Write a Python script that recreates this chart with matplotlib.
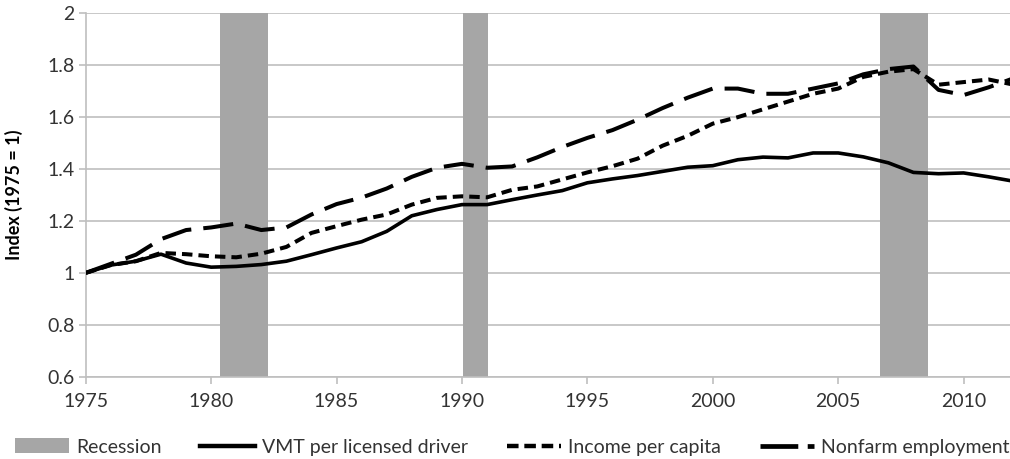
import numpy as np
import matplotlib
matplotlib.use('Agg')
import matplotlib.pyplot as plt
from matplotlib.patches import Patch
from matplotlib.lines import Line2D
from matplotlib.ticker import FuncFormatter

plt.rcParams['font.family'] = ['Lato', 'DejaVu Sans']

# years and index values (1975 = 1)
years = list(range(1975, 2013))

vmt = [1.000, 1.030, 1.045, 1.072, 1.038, 1.022, 1.025, 1.032, 1.045, 1.070,
       1.096, 1.120, 1.160, 1.220, 1.244, 1.263, 1.263, 1.282, 1.300, 1.317,
       1.347, 1.362, 1.375, 1.391, 1.407, 1.413, 1.436, 1.446, 1.443, 1.462,
       1.462, 1.447, 1.424, 1.387, 1.382, 1.385, 1.370, 1.353]

income = [1.000, 1.030, 1.045, 1.077, 1.072, 1.064, 1.060, 1.074, 1.100, 1.154,
          1.180, 1.205, 1.225, 1.263, 1.289, 1.295, 1.291, 1.320, 1.333, 1.360,
          1.387, 1.411, 1.440, 1.490, 1.528, 1.575, 1.600, 1.630, 1.660, 1.690,
          1.710, 1.755, 1.775, 1.785, 1.725, 1.735, 1.745, 1.725]

employment = [1.000, 1.035, 1.070, 1.130, 1.165, 1.175, 1.190, 1.165, 1.175, 1.225,
              1.265, 1.290, 1.325, 1.370, 1.405, 1.420, 1.405, 1.410, 1.445, 1.485,
              1.520, 1.550, 1.590, 1.635, 1.675, 1.710, 1.710, 1.690, 1.690, 1.710,
              1.730, 1.765, 1.785, 1.795, 1.705, 1.685, 1.715, 1.750]

# recession periods (start, end)
rec_start = [1980.35, 1990.05, 2006.65]
rec_end = [1982.27, 1991.05, 2008.57]

ytick_vals = [0.6, 0.8, 1.0, 1.2, 1.4, 1.6, 1.8, 2.0]
xtick_vals = [1975, 1980, 1985, 1990, 1995, 2000, 2005, 2010]

grey = '#a6a6a6'
txt = '#333333'

fig = plt.figure(figsize=(10.1, 4.59), dpi=100)
ax = fig.add_axes([0.0849, 0.1793, 0.9151, 0.7917])

for s, e in zip(rec_start, rec_end):
    ax.axvspan(s, e, color=grey, lw=0, zorder=1)

ax.plot(years, vmt, '-', color='black', lw=2.6, zorder=3)
ax.plot(years, income, color='black', lw=2.9, dashes=(2.6, 1.5), zorder=3)
ax.plot(years, employment, color='black', lw=2.9, dashes=(7.5, 3.0), zorder=3)

ax.set_xlim(1975, 2011.85)
ax.set_ylim(0.6, 2.0)
ax.set_yticks(ytick_vals)
ax.set_xticks(xtick_vals)
ax.yaxis.set_major_formatter(FuncFormatter(lambda v, p: '%g' % v))
ax.grid(axis='y', color='#bfbfbf', lw=1.2, zorder=0)
ax.set_axisbelow(True)

for sp in ['top', 'right']:
    ax.spines[sp].set_visible(False)
ax.spines['left'].set_color('#bfbfbf')
ax.spines['bottom'].set_color('#bfbfbf')
ax.spines['left'].set_linewidth(1.2)
ax.spines['bottom'].set_linewidth(1.2)
ax.tick_params(axis='both', colors='#bfbfbf', labelcolor=txt, labelsize=14,
               length=5, width=1.2)
ax.tick_params(axis='x', pad=7)
ax.tick_params(axis='y', pad=3)

ax.set_ylabel('Index (1975 = 1)', fontsize=13, fontweight='bold', color='black')
ax.yaxis.set_label_coords(-0.068, 0.5)

handles = [Patch(color=grey, lw=0),
           Line2D([], [], color='black', lw=3.2),
           Line2D([], [], color='black', lw=3.2, dashes=(2.6, 1.3)),
           Line2D([], [], color='black', lw=3.4, dashes=(8.0, 2.0))]
labels = ['Recession', 'VMT per licensed driver', 'Income per capita', 'Nonfarm employment']
fig.legend(handles, labels, loc='center', bbox_to_anchor=(0.507, 0.026), ncol=4,
           frameon=False, fontsize=14, handlelength=2.8, handleheight=0.8,
           handletextpad=0.35, columnspacing=2.0, labelcolor=txt)

fig.savefig('out.png', dpi=100)
